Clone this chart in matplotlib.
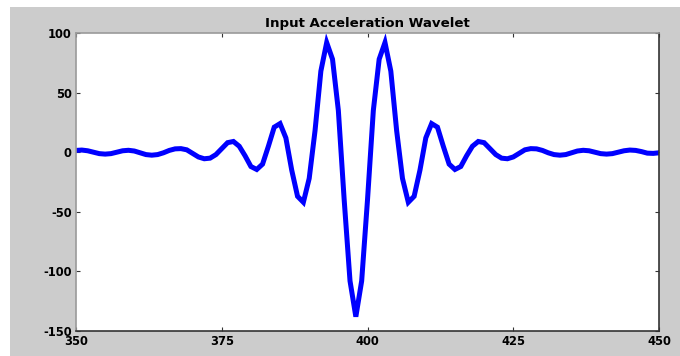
import numpy as np
import matplotlib
matplotlib.use("Agg")
import matplotlib.pyplot as plt
from matplotlib.patches import Rectangle

# ---- data ----
time = list(range(350, 451))
accel = [
    1.5, 1.8, 1.2, 0.0, -1.2, -1.6, -1.2, 0.0, 1.2, 1.6,          # 350-359
    1.0, -0.5, -2.0, -2.5, -2.0, -0.5, 1.5, 2.8, 3.0, 2.0,        # 360-369
    -1.0, -4.0, -5.5, -5.0, -2.0, 3.0, 8.0, 9.0, 5.0, -3.0,       # 370-379
    -12.0, -14.5, -10.0, 5.0, 21.0, 24.0, 12.0, -15.0, -37.0, -42.0,  # 380-389
    -22.0, 18.0, 68.0, 92.0, 78.0, 35.0, -40.0, -108.0, -138.0, -108.0,  # 390-399
    -40.0, 35.0, 78.0, 92.0, 68.0, 18.0, -22.0, -42.0, -37.0, -15.0,  # 400-409
    12.0, 24.0, 21.0, 5.0, -10.0, -14.5, -12.0, -3.0, 5.0, 9.0,   # 410-419
    8.0, 3.0, -2.0, -5.0, -5.5, -4.0, -1.0, 2.0, 3.0, 2.8,        # 420-429
    1.5, -0.5, -2.0, -2.5, -2.0, -0.5, 1.0, 1.6, 1.2, 0.0,        # 430-439
    -1.2, -1.6, -1.2, 0.0, 1.2, 1.8, 1.5, 0.5, -0.8, -1.0,        # 440-449
    -0.5,                                                         # 450
]
x_ticks = [350, 375, 400, 425, 450]
y_ticks = [-150, -100, -50, 0, 50, 100]
title = "Input Acceleration Wavelet"

W, H = 680, 356
fig = plt.figure(figsize=(W / 100, H / 100), dpi=100, facecolor="white")
# gray MATLAB-like figure panel
fig.patches.append(Rectangle((10 / W, 0), 1 - 10 / W, (H - 7) / H,
                             transform=fig.transFigure, facecolor="#cccccc",
                             edgecolor="none", zorder=-10))

ax = fig.add_axes([76 / W, (H - 331) / H, (659 - 76) / W, (331 - 33) / H])
ax.set_facecolor("white")
ax.plot(time, accel, color="#0000ff", linewidth=3.6, solid_joinstyle="miter")

ax.set_xlim(350, 450)
ax.set_ylim(-150, 100)
ax.set_xticks(x_ticks)
ax.set_yticks(y_ticks)
ax.set_xticklabels([str(v) for v in x_ticks])
ax.set_yticklabels([str(v) for v in y_ticks])

font = ["DejaVu Sans"]
for lab in ax.get_xticklabels() + ax.get_yticklabels():
    lab.set_fontfamily(font)
    lab.set_fontweight("bold")
    lab.set_fontsize(8.3)

ax.tick_params(direction="in", length=3, width=0.8, color="#333333",
               top=True, right=True)
ax.tick_params(axis="y", pad=3)
ax.tick_params(axis="x", pad=3)

for side in ["top", "left"]:
    ax.spines[side].set_color("#9a9a9a")
    ax.spines[side].set_linewidth(1.2)
for side in ["bottom", "right"]:
    ax.spines[side].set_color("#333333")
    ax.spines[side].set_linewidth(1.2)

ax.set_title(title, fontfamily=font, fontweight="bold", fontsize=9.6, pad=4)

fig.savefig("out.png", dpi=100, facecolor=fig.get_facecolor())
